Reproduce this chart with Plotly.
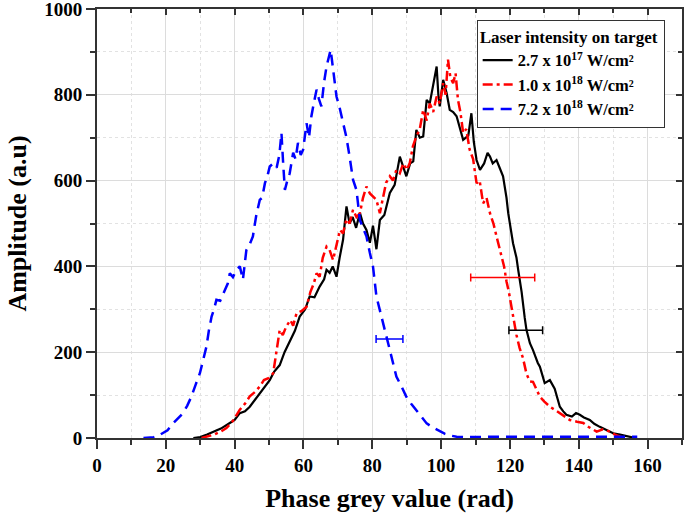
import plotly.graph_objects as go

# ---- data ----
black_x = [28, 30, 32, 34.7, 36, 38.6, 40, 41.5, 43, 44.4, 46, 47.3, 48.5, 50.2, 51.5, 53.1, 54.5, 56, 57.5,
           58.9, 60.5, 61.8, 63.2, 64.7, 66, 66.7, 67.6, 68.5, 69.6, 70.5, 71.5, 72.5, 73.4, 74.3, 75.3, 76.4,
           77.3, 78.3, 79.3, 80.2, 81.2, 82.2, 83.5, 85.1, 86.5, 88, 89, 89.9, 91, 91.9, 92.8, 93.8, 94.8, 95.8,
           96.7, 97.7, 98.7, 99.2, 99.6, 100.6, 101.6, 102.5, 103.5, 104.5, 105.5, 106.4, 107.9, 108.8, 109.5,
           110.3, 111.3, 112.5, 113.5, 114.2, 115, 116.1, 117, 118, 119, 119.5, 120.9, 121.9, 122.4, 123.4,
           124.3, 124.8, 125.8, 126.7, 128.1, 128.7, 130.1, 131.6, 133, 134.5, 135.5, 136.4, 138, 139.2, 140.3,
           141.5, 143.2, 144.5, 146.1, 148, 150, 152, 153.9, 155.8]
black_y = [0, 2, 8, 18, 22, 35, 42, 58, 62, 73, 90, 105, 118, 135, 155, 170, 200, 225, 250,
           283, 300, 330, 328, 353, 370, 392, 385, 400, 376, 420, 462, 540, 500, 515, 490, 525,
           500, 485, 455, 495, 440, 508, 520, 571, 590, 656, 630, 610, 640, 645, 718, 700, 703, 788,
           780, 827, 866, 800, 773, 835, 804, 765, 760, 750, 720, 695, 705, 757, 690,
           648, 625, 640, 665, 656, 640, 648, 630, 610, 560, 524, 454, 420, 392, 340,
           280, 252, 221, 205, 175, 166, 128, 135, 115, 73, 62, 54, 50, 58, 54,
           48, 42, 33, 26, 18, 11, 8, 5, 1]

red_x = [30.4, 32, 34, 36, 37.6, 39.5, 41.5, 43, 44.4, 46, 47.3, 48.5, 50, 51.2, 52.2, 53.1, 54, 55, 56.2,
         57, 58, 59.5, 60.9, 62, 63, 63.8, 64.7, 65.6, 66.7, 67.6, 68.6, 69.5, 70.6, 71.5, 72.5, 73.4, 74.4,
         75.4, 76.4, 77.3, 78.3, 79.3, 80.2, 81.2, 82.2, 83, 84, 85.1, 86, 87, 88, 89, 90, 90.9, 91.8, 92.8,
         93.8, 94.8, 95.8, 96.7, 97.7, 98.7, 99.6, 100.6, 101.3, 102, 102.7, 103.5, 104.2, 104.9, 105.6,
         106.4, 107.3, 108.3, 109.3, 110.3, 111.2, 112.2, 113.2, 114.2, 115.2, 116.1, 117, 117.6, 118.3, 119,
         119.7, 120.5, 121.2, 121.9, 122.8, 123.8, 124.8, 125.8, 126.7, 127.7, 128.7, 130, 131.6, 133, 134.5,
         136, 137.4, 139.5, 141.3, 143, 145.2, 147, 149.1, 150.5, 152, 153.5]
red_y = [0, 3, 8, 15, 23, 40, 66, 80, 97, 108, 120, 135, 140, 151, 200, 252, 240, 260, 275,
         262, 291, 296, 306, 340, 360, 384, 376, 420, 446, 438, 415, 450, 485, 477, 510, 500, 532,
         515, 524, 560, 586, 570, 563, 555, 524, 560, 595, 610, 600, 625, 617, 640, 625, 641, 680, 703,
         720, 765, 740, 780, 760, 796, 780, 827, 800, 882, 840, 827, 850, 788, 760,
         711, 720, 672, 650, 594, 600, 547, 560, 524, 500, 470, 440, 423, 400, 365,
         340, 303, 270, 240, 210, 186, 150, 132, 131, 115, 96, 85, 73, 66, 58,
         48, 42, 38, 35, 25, 15, 20, 15, 8, 3, 0]

blue_x = [13.5, 15, 16.5, 18, 19.2, 20.5, 22.1, 23.5, 25, 26.2, 27.4, 28.7, 29.9, 30.8, 31.8, 32.5, 33.3, 34,
          34.7, 35.8, 37.1, 38, 38.6, 39.5, 40.5, 41.5, 42.4, 43.4, 44.3, 45.3, 46.3, 47.3, 48, 48.8, 49.5,
          50.2, 51.2, 52.2, 53, 53.6, 54.1, 54.6, 55.3, 56, 57, 57.7, 58.4, 59.2, 59.9, 60.9, 61.6, 62.3, 63,
          63.8, 64.5, 65.2, 66, 66.7, 67.9, 68.8, 69.6, 70.5, 71.5, 72.5, 73.4, 74.4, 75.4, 76.4, 77.3, 78.3,
          79.3, 80.2, 81.2, 82.2, 83.1, 84, 85.1, 86, 87, 88.5, 89.9, 91.3, 92.8, 94.3, 95.8, 97.7, 99.6, 101,
          102.5, 104.5, 107, 110, 115, 120, 125, 130, 135, 140, 145, 150, 155, 157]
blue_y = [0, 1, 2, 6, 11, 18, 34, 45, 58, 75, 96, 125, 151, 180, 213, 250, 283, 300,
          322, 320, 345, 360, 384, 375, 392, 400, 369, 438, 450, 470, 520, 555, 560, 594, 610,
          633, 640, 630, 660, 711, 640, 578, 600, 617, 665, 650, 688, 660, 672, 734, 700, 750, 780,
          812, 790, 773, 830, 866, 905, 850, 796, 770, 734, 700, 656, 602, 578, 508, 490, 470,
          431, 400, 330, 300, 268, 240, 205, 175, 143, 120, 96, 80, 65, 48, 34, 24, 15, 10,
          6, 3, 2, 3, 3, 3, 3, 3, 3, 3, 3, 3, 3, 3]

names = ["2.7 x 10<sup>17</sup> W/cm²", "1.0 x 10<sup>18</sup> W/cm²", "7.2 x 10<sup>18</sup> W/cm²"]

# error bars (center x, y, half-width)
err_x = [124.6, 117.9, 85.0]
err_y = [251, 374, 231]
err_w = [4.9, 9.3, 3.9]

FONT = "Liberation Serif, Times New Roman, serif"
colors = ["black", "red", "blue"]

fig = go.Figure()
fig.add_trace(go.Scatter(x=black_x, y=black_y, mode="lines", name=names[0],
                         line=dict(color="black", width=2.2)))
fig.add_trace(go.Scatter(x=red_x, y=red_y, mode="lines", name=names[1],
                         line=dict(color="red", width=2.5, dash="10px,4px,3px,4px")))
fig.add_trace(go.Scatter(x=blue_x, y=blue_y, mode="lines", name=names[2],
                         line=dict(color="blue", width=2.5, dash="11px,7px")))

for i in range(3):
    fig.add_trace(go.Scatter(x=[err_x[i]], y=[err_y[i]], mode="markers", showlegend=False,
                             marker=dict(size=0.1, color=colors[i], opacity=0),
                             error_x=dict(type="data", array=[err_w[i]], color=colors[i],
                                          thickness=1.5, width=4),
                             hoverinfo="skip"))

# dummy trace for the inward mirror axes
fig.add_trace(go.Scatter(x=[None], y=[None], xaxis="x2", yaxis="y2", showlegend=False, hoverinfo="skip"))

axcol = "#333333"
grid = "#dcdcdc"
fig.update_layout(
    width=685, height=517,
    margin=dict(l=97, r=3, t=9, b=79, autoexpand=False),
    paper_bgcolor="white", plot_bgcolor="white",
    font=dict(family=FONT, color="black"),
    xaxis=dict(range=[0, 170], dtick=20, tick0=0, ticks="outside", ticklen=9, tickwidth=1.5,
               tickcolor=axcol, showline=True, linecolor=axcol, linewidth=2, mirror=True,
               showgrid=True, gridcolor=grid, gridwidth=1, zeroline=False, automargin=False,
               ticklabeloverflow="allow",
               tickfont=dict(family=FONT, size=19, color="black", weight="bold"),
               minor=dict(dtick=10, tick0=0, ticks="outside", ticklen=5, tickwidth=1.5, tickcolor=axcol,
                          showgrid=True, gridcolor="#e2e2e2", griddash="dot", gridwidth=1),
               title=dict(text="Phase grey value (rad)", font=dict(family=FONT, size=26, weight="bold"),
                          standoff=14)),
    yaxis=dict(range=[0, 1000.01], dtick=200, tick0=0, ticks="outside", ticklen=9, tickwidth=1.5,
               tickcolor=axcol, showline=True, linecolor=axcol, linewidth=2, mirror=True,
               showgrid=True, gridcolor=grid, gridwidth=1, zeroline=False, automargin=False,
               ticklabeloverflow="allow",
               tickfont=dict(family=FONT, size=19, color="black", weight="bold"),
               minor=dict(dtick=100, tick0=0, ticks="outside", ticklen=5, tickwidth=1.5, tickcolor=axcol,
                          showgrid=True, gridcolor="#e2e2e2", griddash="dot", gridwidth=1),
               title=dict(text="Amplitude (a.u)", font=dict(family=FONT, size=26, weight="bold"),
                          standoff=10)),
    xaxis2=dict(overlaying="x", side="top", anchor="y", range=[0, 170], dtick=20, tick0=0,
                ticks="inside", ticklen=6, tickwidth=1.5, tickcolor=axcol, showticklabels=False,
                showgrid=False, zeroline=False, showline=False, automargin=False,
                minor=dict(dtick=10, tick0=0, ticks="inside", ticklen=4, tickwidth=1.5, tickcolor=axcol,
                           showgrid=False)),
    yaxis2=dict(overlaying="y", side="right", anchor="x", range=[0, 1000.01], dtick=200, tick0=0,
                ticks="inside", ticklen=6, tickwidth=1.5, tickcolor=axcol, showticklabels=False,
                showgrid=False, zeroline=False, showline=False, automargin=False,
                minor=dict(dtick=100, tick0=0, ticks="inside", ticklen=4, tickwidth=1.5, tickcolor=axcol,
                           showgrid=False)),
    legend=dict(x=0.649, y=0.975, xanchor="left", yanchor="top",
                bgcolor="white", bordercolor="#333333", borderwidth=1,
                font=dict(family=FONT, size=16.5, color="black", weight="bold"),
                title=dict(text="Laser intensity on target ",
                           font=dict(family=FONT, size=17, color="black", weight="bold"),
                           side="top"),
                tracegroupgap=0, itemwidth=30),
    showlegend=True,
)

fig.write_html("out.html", config={"displayModeBar": False},
               post_script="document.body.style.margin='0';document.body.style.overflow='hidden';")
